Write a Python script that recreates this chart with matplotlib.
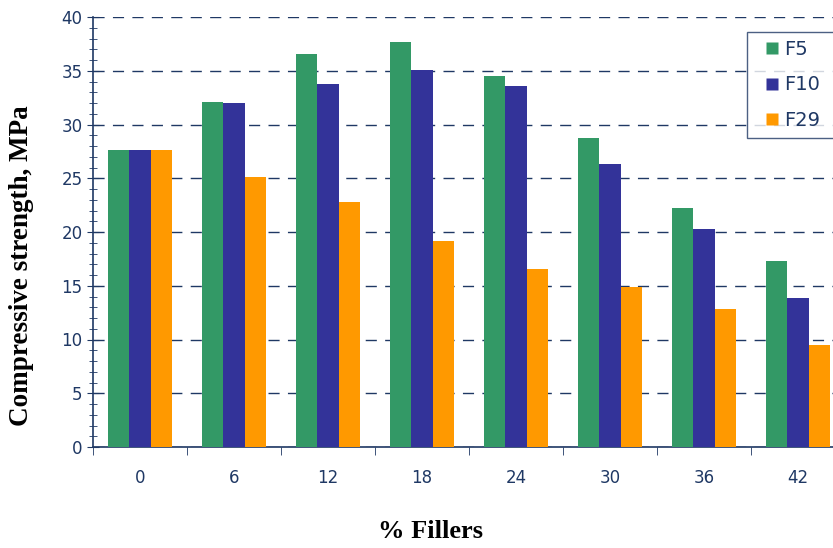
import numpy as np
import matplotlib.pyplot as plt
from matplotlib.lines import Line2D
from matplotlib.ticker import MultipleLocator

# data
fillers = ["0", "6", "12", "18", "24", "30", "36", "42"]
f5 = [27.6, 32.1, 36.6, 37.7, 34.5, 28.7, 22.2, 17.3]
f10 = [27.6, 32.0, 33.8, 35.1, 33.6, 26.3, 20.3, 13.9]
f29 = [27.6, 25.1, 22.8, 19.2, 16.6, 14.9, 12.8, 9.5]
series_names = ["F5", "F10", "F29"]
colors = ["#339966", "#333399", "#FF9900"]

navy = "#1f3864"

fig = plt.figure(figsize=(8.33, 5.48), dpi=100)
# axes runs past the right edge of the figure, like the cropped original
ax = fig.add_axes([93 / 833, 101 / 548, 752 / 833, 430 / 548])

x = np.arange(len(fillers))
w = 0.227
for i, (vals, c) in enumerate(zip([f5, f10, f29], colors)):
    ax.bar(x + (i - 1) * w, vals, width=w, color=c, zorder=3)

ax.set_xlim(-0.5, len(fillers) - 0.5)
ax.set_ylim(0, 40)
ax.set_xticks(x)
ax.set_xticklabels(fillers)
ax.set_xticks(np.arange(len(fillers) + 1) - 0.5, minor=True)
ax.tick_params(axis="x", which="major", length=0, pad=16, labelsize=12, labelcolor=navy)
ax.tick_params(axis="x", which="minor", length=6, direction="out", color=navy)

ax.yaxis.set_major_locator(MultipleLocator(5))
ax.yaxis.set_minor_locator(MultipleLocator(1))
ax.tick_params(axis="y", which="major", length=9, direction="inout", color=navy,
               labelsize=12, labelcolor=navy, pad=3)
ax.tick_params(axis="y", which="minor", length=6, direction="inout", color=navy)

for s in ["top", "right"]:
    ax.spines[s].set_visible(False)
for s in ["left", "bottom"]:
    ax.spines[s].set_color(navy)
    ax.spines[s].set_linewidth(1.2)

ax.yaxis.grid(True, which="major", color=navy, linewidth=1.0, linestyle=(0, (8, 6)), zorder=0)

handles = [Line2D([], [], linestyle="none", marker="s", markersize=9,
                  markerfacecolor=c, markeredgecolor="none") for c in colors]
leg = ax.legend(handles, series_names, loc="upper left",
                bbox_to_anchor=(0.87, 0.5, 0.14, 0.465), mode="expand",
                fontsize=14, frameon=True, fancybox=False, handlelength=1.7,
                handletextpad=-0.2, labelspacing=0.85, borderpad=0.4, borderaxespad=0)
leg.get_frame().set_edgecolor(navy)
leg.get_frame().set_linewidth(1.0)
for t in leg.get_texts():
    t.set_color(navy)

fig.text(22 / 833, 1 - 266 / 548, "Compressive strength, MPa", rotation=90,
         ha="center", va="center", family="Liberation Serif", fontweight="bold", fontsize=19.5)
fig.text(431 / 833, 1 - 532 / 548, "% Fillers", ha="center", va="center",
         family="Liberation Serif", fontweight="bold", fontsize=19)

fig.savefig("out.png", dpi=100)
